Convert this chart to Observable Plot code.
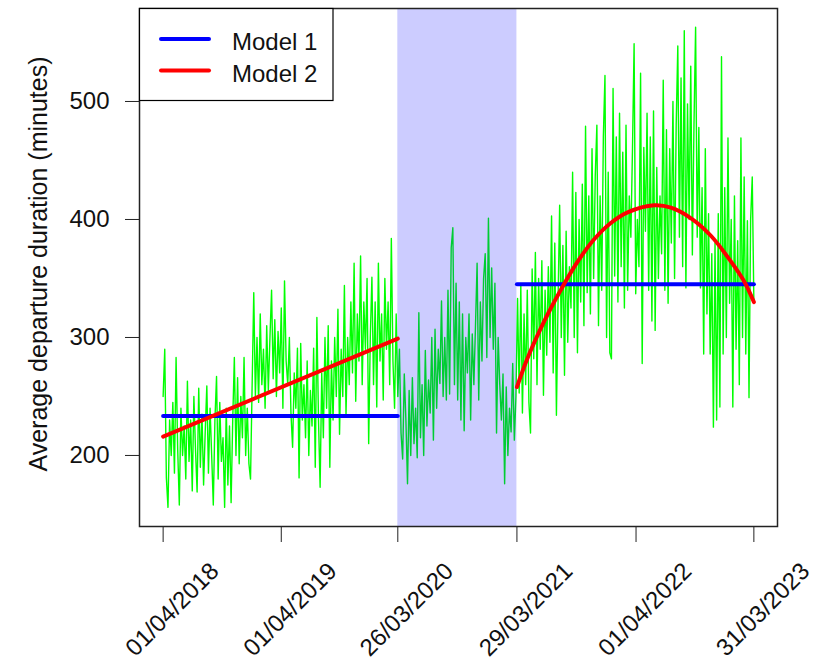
<!DOCTYPE html>
<html><head><meta charset="utf-8">
<script src="https://cdn.jsdelivr.net/npm/d3@7"></script>
<script src="https://cdn.jsdelivr.net/npm/@observablehq/plot@0.6"></script>
<style>body{margin:0;background:#fff} svg{display:block}</style>
</head><body><div id="chart"></div>
<script>
// ---- data ----
const startDate = "2018-04-01";
const stepDays = 5;
// average departure duration, one value every 5 days
const valuesPre = [ // from day 0
250,290,181,156,230,200,245,185,283,205,
158,240,200,225,180,263,195,230,170,250,
205,169,257,190,235,175,220,259,185,240,
200,158,230,267,180,245,195,215,156,240,
175,225,160,230,283,200,266,193,250,215,
283,200,240,193,180,260,338,250,300,245,
320,260,290,240,310,255,300,340,265,315,
250,305,270,325,240,348,280,260,300,235,
207,270,240,291,181,295,230,260,215,280,
200,255,225,291,190,317,230,173,270,215,
300,240,310,190,280,230,300,250,324,218,
290,250,344,235,300,260,330,270,363,246,
320,280,369,260,330,290,350,210,300,351,
260,330,241,363,280,320,247,350,290,330,
260,384,280,240,320,250];
const startCovid = 730;
const valuesCovid = [
290,219,197,269,230,176,255,200,266,210,
240,198,321,215,260,200,289,225,264,236,
300,213,307,240,290,261,331,250,300,247,
340,252,376,393,260,346,247,330,230,320,
221,300,270,320,230,303,260,310,363,247,
330,280,350,371,283,401,300,359,290,346,
219,300,260,230,269,176,258,200,240,220,
278,213,250];
const startPost = 1095;
const valuesPost = [
333,253,344,236,320,260,340,245,219,358,
282,372,260,350,290,365,251,340,285,360,
296,403,270,380,234,330,412,300,378,268,
390,296,360,325,440,300,423,287,400,330,
430,310,479,338,420,320,460,350,437,480,
310,420,340,470,522,300,440,287,282,511,
352,470,330,490,360,457,325,480,340,420,
385,460,549,337,400,360,524,278,461,390,
490,340,470,314,492,306,444,350,420,371,
518,340,476,329,460,380,500,350,480,547,
385,520,360,560,342,498,400,530,370,480,
563,385,478,342,427,286,460,320,405,286,
371,224,380,230,405,241,538,286,427,300,
469,329,400,241,420,290,382,260,469,300,
436,286,399,249,400,436,330];

const tickDates = ["2018-04-01","2019-04-01","2020-03-26","2021-03-29","2022-04-01","2023-03-31"];
const tickLabels = ["01/04/2018","01/04/2019","26/03/2020","29/03/2021","01/04/2022","31/03/2023"];
const yTicks = [200, 300, 400, 500];
const shadeStart = "2020-03-26", shadeEnd = "2021-03-29";

// Model 1: constant level per period
const model1From = ["2018-04-01", "2021-03-29"];
const model1To = ["2020-03-26", "2023-03-31"];
const model1Level = [233.5, 345];
// Model 2: linear trend before, quadratic after
const model2aDates = ["2018-04-01", "2020-03-26"];
const model2aValues = [216, 299];
const model2bDays = [1093,1125,1176,1228,1280,1331,1383,1435,1517,1569,1631,1693,1755,1796,1825];
const model2bValues = [258,282,313,340,364,383,397,406,412,410,401,386,364,347,330];

const legendLabels = ["Model 1", "Model 2"];
const legendColors = ["#0000ff", "#ff0000"];

// ---- build tables ----
const day0 = Date.parse(startDate + "T00:00:00Z");
const toDate = d => new Date(day0 + d * 864e5);
const parse = s => new Date(s + "T00:00:00Z");
const series = [];
valuesPre.forEach((v, i) => series.push({date: toDate(i * stepDays), value: v}));
valuesCovid.forEach((v, i) => series.push({date: toDate(startCovid + i * stepDays), value: v}));
valuesPost.forEach((v, i) => series.push({date: toDate(startPost + i * stepDays), value: v}));

const m1 = [];
model1Level.forEach((lv, k) => { m1.push({date: parse(model1From[k]), value: lv, seg: k}); m1.push({date: parse(model1To[k]), value: lv, seg: k}); });
const m2a = model2aDates.map((d, i) => ({date: parse(d), value: model2aValues[i]}));
const m2b = model2bDays.map((d, i) => ({date: toDate(d), value: model2bValues[i]}));
const ticks = tickDates.map((d, i) => ({date: parse(d), label: tickLabels[i]}));

const FONT = "'Liberation Sans', Arial, sans-serif";

const plot = Plot.plot({
  width: 827, height: 661,
  marginTop: 8, marginBottom: 135, marginLeft: 139, marginRight: 50,
  style: {fontFamily: FONT, fontSize: "24px", color: "#222", background: "#fff"},
  x: {type: "utc", domain: [toDate(-73), toDate(1898)]},
  y: {domain: [139.8, 578.8]},
  marks: [
    Plot.line(series, {x: "date", y: "value", stroke: "#00ff00", strokeWidth: 1.4}),
    Plot.rect([{a: parse(shadeStart), b: parse(shadeEnd)}], {x1: "a", x2: "b", fill: "#0000ff", fillOpacity: 0.2}),
    Plot.line(m1, {x: "date", y: "value", z: "seg", stroke: "#0000ff", strokeWidth: 4}),
    Plot.line(m2a, {x: "date", y: "value", stroke: "#ff0000", strokeWidth: 4}),
    Plot.line(m2b, {x: "date", y: "value", stroke: "#ff0000", strokeWidth: 4, curve: "catmull-rom"}),
    Plot.axisY({ticks: yTicks, tickSize: 14, tickPadding: 16, label: null, fill: "#111"}),
    Plot.axisX({ticks: ticks.map(t => t.date), tickSize: 16, tickFormat: () => "", label: null}),
    Plot.text(ticks, {x: "date", text: "label", frameAnchor: "bottom", dx: 57, dy: 46, rotate: -45, textAnchor: "end", lineAnchor: "bottom", fontSize: 24, fill: "#111"}),
    Plot.frame({stroke: "#222", strokeWidth: 1.5})
  ]
});

const svg = d3.select(plot);
// y axis title
svg.append("text")
  .attr("transform", "translate(47,264) rotate(-90)")
  .attr("text-anchor", "middle")
  .attr("font-size", 25).attr("fill", "#111")
  .text("Average departure duration (minutes)");
// legend
const lg = svg.append("g").attr("text-anchor", "start");
lg.append("rect").attr("x", 139.5).attr("y", 8.5).attr("width", 193.5).attr("height", 92)
  .attr("fill", "#fff").attr("stroke", "#000").attr("stroke-width", 1.2);
legendLabels.forEach((lab, i) => {
  const cy = 39 + i * 31.5;
  lg.append("line").attr("x1", 161).attr("x2", 209).attr("y1", cy).attr("y2", cy)
    .attr("stroke", legendColors[i]).attr("stroke-width", 4).attr("stroke-linecap", "round");
  lg.append("text").attr("x", 232).attr("y", cy + 11).attr("text-anchor", "start")
    .attr("font-size", 24).attr("fill", "#111").text(lab);
});
document.getElementById("chart").appendChild(plot);
</script>
</body></html>
